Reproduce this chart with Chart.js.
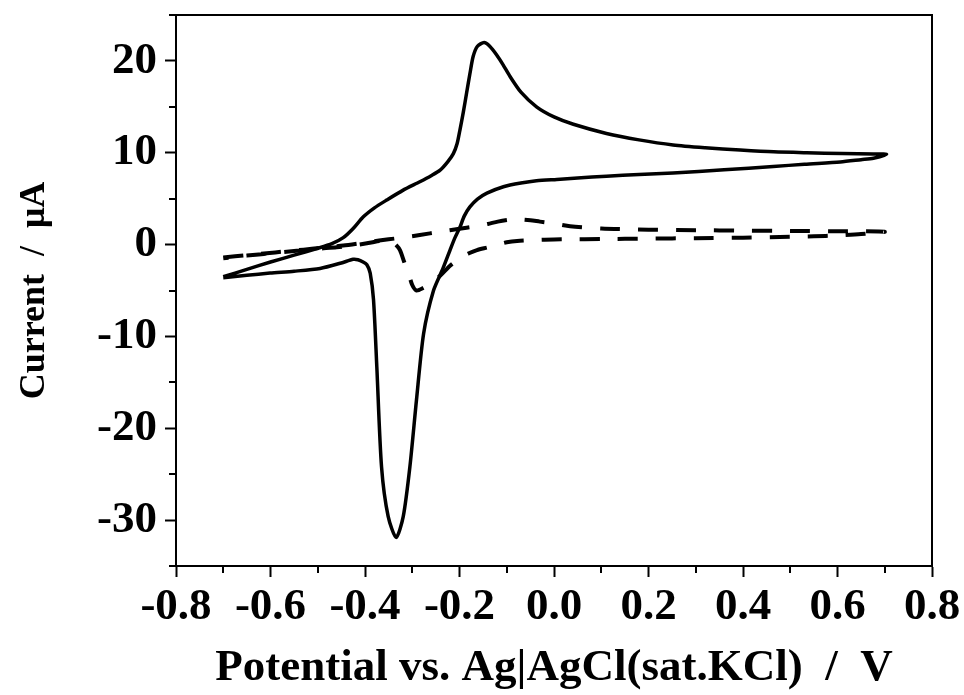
<!DOCTYPE html>
<html>
<head>
<meta charset="utf-8">
<script src="https://cdn.jsdelivr.net/npm/chart.js@4.4.1/dist/chart.umd.min.js"></script>
<style>
  html, body { margin: 0; padding: 0; background: #fff; }
  #cv { display: block; }
</style>
</head>
<body>
<canvas id="cv" width="964" height="695"></canvas>
<script>
// solid CV: forward scan -0.7 -> 0.7, then back to -0.7
const solidX = [
  -0.70, -0.65, -0.60, -0.55, -0.50, -0.47, -0.446, -0.425, -0.404, -0.38, -0.354, -0.32, -0.284, -0.26, -0.241,
  -0.225, -0.213, -0.205, -0.199, -0.192, -0.185, -0.178, -0.171, -0.162, -0.148, -0.136, -0.122,
  -0.108, -0.093, -0.07, -0.037, 0.0, 0.041, 0.111, 0.18, 0.252, 0.32, 0.394, 0.465, 0.535, 0.61,
  0.676, 0.704,
  0.676, 0.65, 0.606, 0.53, 0.464, 0.36, 0.252, 0.18, 0.111, 0.05, 0.006, -0.037, -0.07, -0.107,
  -0.142, -0.162, -0.178, -0.19, -0.199, -0.21, -0.22, -0.235, -0.255, -0.276, -0.291,
  -0.305, -0.319, -0.334, -0.351, -0.365, -0.375, -0.382, -0.389, -0.396, -0.404, -0.415, -0.425,
  -0.45, -0.495, -0.55, -0.601, -0.65, -0.70
];
const solidY = [
  -3.5, -2.7, -1.9, -1.15, -0.4, 0.1, 0.75, 1.75, 3.0, 4.0, 4.85, 5.9, 6.84, 7.5, 8.1,
  9.0, 9.9, 11.0, 12.5, 14.4, 16.5, 18.6, 20.5, 21.6, 22.0, 21.6, 20.7,
  19.6, 18.3, 16.6, 15.0, 13.9, 13.1, 12.1, 11.4, 10.85, 10.55, 10.3, 10.1, 10.0, 9.92,
  9.86, 9.83,
  9.4, 9.25, 9.0, 8.75, 8.5, 8.15, 7.8, 7.62, 7.45, 7.25, 7.1, 6.95, 6.7, 6.3,
  5.6, 4.95, 4.1, 3.1, 1.9, 0.7, -0.6, -2.6, -5.0, -9.7, -16.9,
  -24.2, -29.6, -31.9, -29.6, -24.2, -13.3, -6.0, -3.1, -2.2, -1.9, -1.65, -1.6,
  -2.0, -2.6, -2.9, -3.1, -3.35, -3.6
];

// dashed CV
const dashX = [
  -0.70, -0.65, -0.59, -0.53, -0.495, -0.446, -0.404, -0.37, -0.33, -0.284, -0.241, -0.2, -0.17,
  -0.14, -0.119, -0.095, -0.076, -0.05, -0.03, 0.0, 0.034, 0.1, 0.2, 0.3, 0.4, 0.5, 0.6, 0.7,
  0.65, 0.6, 0.55, 0.5, 0.4, 0.3, 0.2, 0.1, 0.03, 0.0, -0.04, -0.078, -0.1, -0.119, -0.14,
  -0.163, -0.18, -0.199, -0.22, -0.241, -0.26, -0.276, -0.291, -0.3, -0.308, -0.317, -0.326,
  -0.335, -0.345, -0.354, -0.37, -0.39, -0.42, -0.46, -0.5, -0.55, -0.6, -0.65, -0.70
];
const dashY = [
  -1.4, -1.15, -0.85, -0.55, -0.35, -0.1, 0.2, 0.45, 0.7, 1.04, 1.4, 1.72, 1.95,
  2.25, 2.5, 2.7, 2.75, 2.65, 2.5, 2.3, 2.0, 1.75, 1.62, 1.57, 1.52, 1.48, 1.45, 1.4,
  1.15, 1.0, 0.9, 0.85, 0.75, 0.7, 0.65, 0.6, 0.58, 0.56, 0.5, 0.4, 0.25, 0.0, -0.3,
  -0.6, -0.95, -1.5, -2.3, -3.4, -4.2, -4.7, -5.0, -4.4, -3.1, -1.9, -0.6,
  0.0, 0.35, 0.5, 0.4, 0.2, -0.05, -0.3, -0.45, -0.7, -0.95, -1.2, -1.5
];

const xTickMin = -0.8, xTickMax = 0.8, xStep = 0.2;
const yTickMin = -35, yTickMax = 25;
const yTicks = [-30, -20, -10, 0, 10, 20];
const yMinorTicks = [-35, -25, -15, -5, 5, 15, 25];

const toPoints = (xs, ys) => xs.map((x, i) => ({ x: x, y: ys[i] }));

// frame on all four sides + minor ticks
const framePlugin = {
  id: "frame",
  afterDraw(chart) {
    const { ctx, chartArea: a, scales } = chart;
    ctx.save();
    ctx.strokeStyle = "#000";
    ctx.lineWidth = 2;
    ctx.strokeRect(a.left, a.top, a.right - a.left, a.bottom - a.top);

    ctx.beginPath();
    for (let v = xTickMin + xStep / 2; v < xTickMax; v += xStep) {
      const px = Math.round(scales.x.getPixelForValue(v));
      ctx.moveTo(px, a.bottom);
      ctx.lineTo(px, a.bottom + 7);
    }
    yMinorTicks.forEach((v) => {
      const py = Math.round(scales.y.getPixelForValue(v));
      ctx.moveTo(a.left, py);
      ctx.lineTo(a.left - 7, py);
    });
    ctx.stroke();
    ctx.restore();
  },
};

Chart.defaults.font.family = "'Liberation Serif', 'Times New Roman', serif";
Chart.defaults.font.weight = "bold";
Chart.defaults.color = "#000";

const ctx = document.getElementById("cv").getContext("2d");
new Chart(ctx, {
  type: "scatter",
  data: {
    datasets: [
      {
        label: "solid",
        data: toPoints(solidX, solidY),
        showLine: true,
        borderColor: "#000",
        borderWidth: 3.5,
        pointRadius: 0,
        tension: 0.25,
      },
      {
        label: "dashed",
        data: toPoints(dashX, dashY),
        showLine: true,
        borderColor: "#000",
        borderWidth: 4,
        borderDash: [20, 18],
        pointRadius: 0,
        tension: 0.25,
      },
    ],
  },
  options: {
    responsive: false,
    animation: false,
    devicePixelRatio: 1,
    layout: { padding: { top: 15, right: 32, left: 0, bottom: 0 } },
    plugins: {
      legend: { display: false },
      tooltip: { enabled: false },
    },
    scales: {
      x: {
        type: "linear",
        min: xTickMin,
        max: xTickMax,
        afterFit: (scale) => {
          scale.height = 129;
          scale.paddingLeft = 0;
          scale.paddingRight = 0;
        },
        ticks: {
          stepSize: xStep,
          font: { size: 45 },
          padding: 3,
          maxRotation: 0,
          callback: (v) => v.toFixed(1),
        },
        grid: {
          drawOnChartArea: false,
          drawTicks: true,
          tickLength: 11,
          tickWidth: 2,
          tickColor: "#000",
        },
        border: { display: true, color: "#000", width: 2 },
        title: {
          display: true,
          text: "Potential vs. Ag|AgCl(sat.KCl)  /  V",
          font: { size: 45 },
          padding: { top: 0, bottom: 0 },
        },
      },
      y: {
        type: "linear",
        min: yTickMin,
        max: yTickMax,
        afterFit: (scale) => {
          scale.width = 176;
          scale.paddingTop = 0;
          scale.paddingBottom = 0;
        },
        afterBuildTicks: (scale) => {
          scale.ticks = yTicks.map((v) => ({ value: v }));
        },
        ticks: {
          font: { size: 45 },
          padding: 8,
          callback: (v) => String(v),
        },
        grid: {
          drawOnChartArea: false,
          drawTicks: true,
          tickLength: 11,
          tickWidth: 2,
          tickColor: "#000",
        },
        border: { display: true, color: "#000", width: 2 },
        title: {
          display: true,
          text: "Current  /  μA",
          font: { size: 36 },
          padding: { top: 13, bottom: 0 },
        },
      },
    },
  },
  plugins: [framePlugin],
});
</script>
</body>
</html>
